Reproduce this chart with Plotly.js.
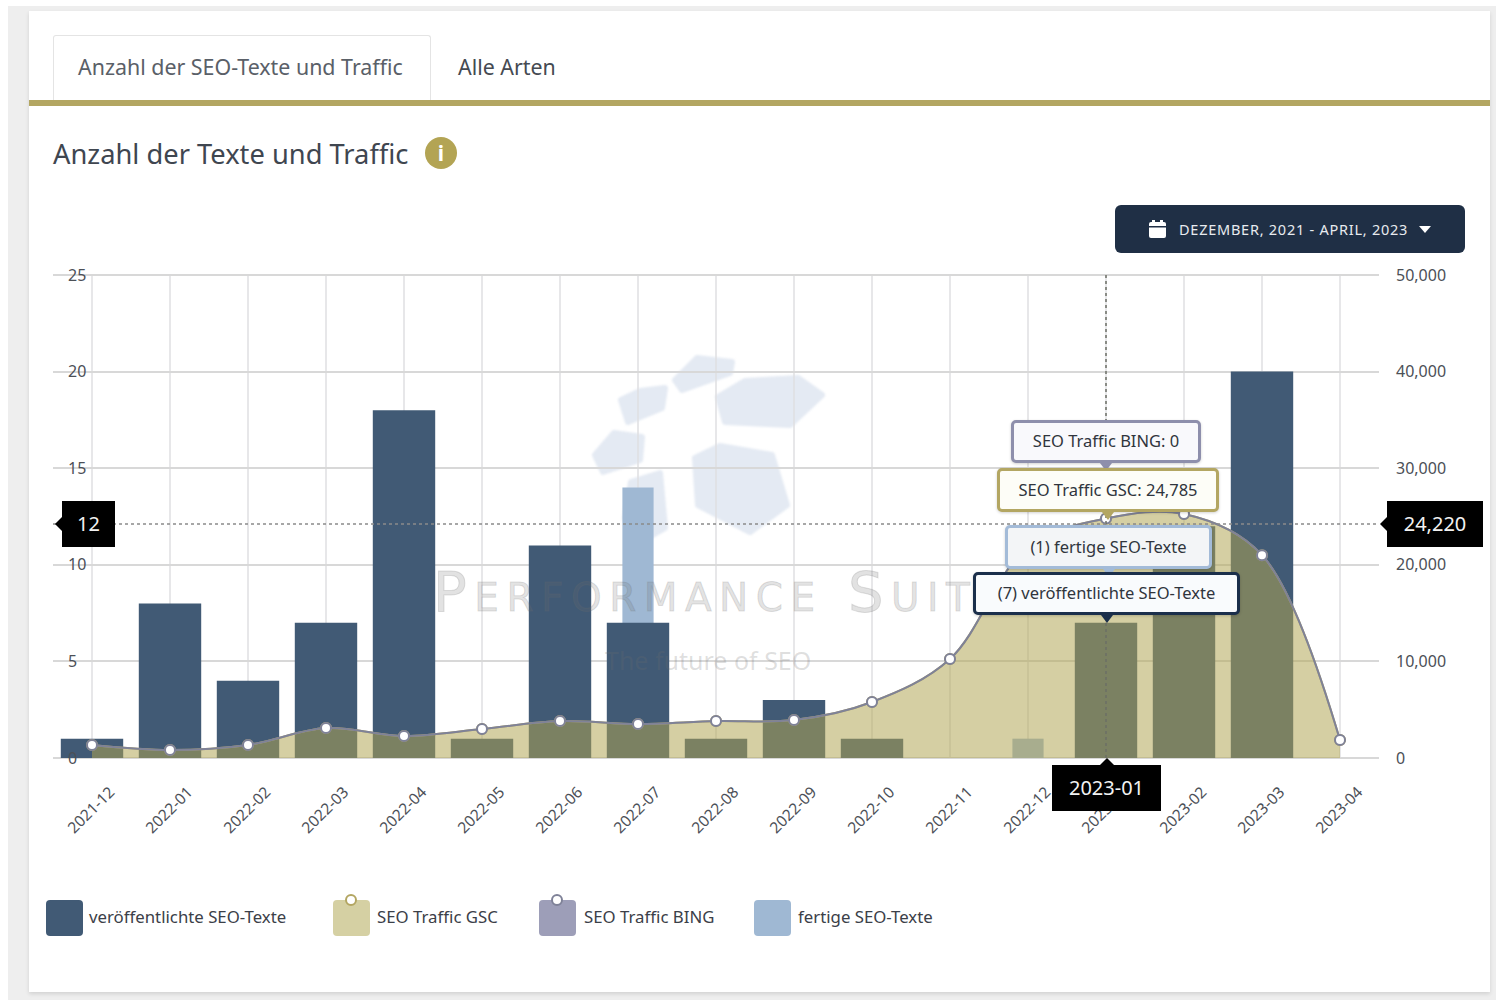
<!DOCTYPE html>
<html lang="de">
<head>
<meta charset="utf-8">
<script src="https://cdn.plot.ly/plotly-3.0.1.min.js"></script>
<style>
html,body{margin:0;padding:0;background:#fff;}
body{width:1496px;height:1000px;position:relative;overflow:hidden;font-family:"Noto Sans",sans-serif;color:#3a3f47;}
.abs{position:absolute;}
#bg{left:8px;top:6px;width:1488px;height:994px;background:#eeeeee;}
#card{left:29px;top:11px;width:1461px;height:981px;background:#fff;box-shadow:0 2px 4px rgba(0,0,0,.12);}
#tab{left:53px;top:35px;width:378px;height:65px;border:1px solid #e4e4e4;border-bottom:none;border-radius:3px 3px 0 0;box-sizing:border-box;}
.tabt{top:52px;font-size:21.4px;line-height:30px;white-space:nowrap;color:#5a6068;}
#rule{left:29px;top:100px;width:1461px;height:6px;background:#b3a662;}
#title{left:53px;top:135px;font-size:27.3px;line-height:38px;white-space:nowrap;color:#3f4650;}
#info{left:425px;top:137px;width:32px;height:32px;border-radius:50%;background:#b3a454;color:#fff;text-align:center;font:bold 21px/32px "Noto Sans",sans-serif;}
#date{left:1115px;top:205px;width:350px;height:48px;background:#1f2f45;border-radius:6px;color:#e8ebef;}
#datet{position:absolute;left:64px;top:14px;font-size:14.5px;line-height:20px;white-space:nowrap;letter-spacing:.75px;}
#wm{left:0;top:0;width:1496px;height:1000px;filter:blur(1.2px);}
#wmt{left:433px;top:562px;font:56px/60px "DejaVu Sans",sans-serif;font-variant:small-caps;letter-spacing:7.5px;color:rgba(110,110,110,.2);-webkit-text-stroke:1px rgba(110,110,110,.2);white-space:nowrap;}
#wms{left:605px;top:645px;font:25px/30px "Noto Sans",sans-serif;color:rgba(110,110,110,.22);white-space:nowrap;}
#plot{left:0;top:0;width:1496px;height:1000px;}
.tip{position:absolute;box-sizing:border-box;border-radius:5px;border-width:3.5px;border-style:solid;text-align:center;font-size:16.5px;color:#30353d;white-space:nowrap;box-shadow:0 1px 3px rgba(0,0,0,.18);}
.tip:after{content:"";position:absolute;left:50%;bottom:-11px;margin-left:-6px;border:6px solid transparent;border-bottom:0;border-top:8px solid var(--c);}
.cur{position:absolute;background:#000;color:#f2f2f2;text-align:center;font-size:20px;line-height:46px;height:46px;}
.cur.l:after{content:"";position:absolute;left:-7px;top:16px;border:7px solid transparent;border-left:0;border-right:7px solid #000;}
.cur.u:after{content:"";position:absolute;left:50%;margin-left:-7px;top:-7px;border:7px solid transparent;border-top:0;border-bottom:7px solid #000;}
.sw{position:absolute;top:900px;width:37px;height:36px;border-radius:4px;}
.sw i{position:absolute;left:12px;top:-6px;width:8px;height:8px;border-radius:50%;background:#fff;border:2px solid var(--c);}
.lt{position:absolute;top:905px;font-size:16.8px;line-height:24px;white-space:nowrap;color:#3b4048;}
</style>
</head>
<body>
<div class="abs" id="bg"></div>
<div class="abs" id="card"></div>
<div class="abs" id="tab"></div>
<div class="abs tabt" style="left:78px">Anzahl der SEO-Texte und Traffic</div>
<div class="abs tabt" style="left:458px;color:#454a52">Alle Arten</div>
<div class="abs" id="rule"></div>
<div class="abs" id="title">Anzahl der Texte und Traffic</div>
<div class="abs" id="info">i</div>
<div class="abs" id="date">
  <svg style="position:absolute;left:34px;top:15px" width="17" height="18" viewBox="0 0 17 18"><rect x="0" y="2" width="17" height="16" rx="2" fill="#fff"/><rect x="3" y="0" width="3" height="4" fill="#fff"/><rect x="11" y="0" width="3" height="4" fill="#fff"/><rect x="0" y="6" width="17" height="1.5" fill="#1f2f45"/></svg>
  <span id="datet">DEZEMBER, 2021 - APRIL, 2023</span>
  <svg style="position:absolute;left:304px;top:21px" width="12" height="7" viewBox="0 0 12 7"><path d="M0 0H12L6 7Z" fill="#fff"/></svg>
</div>
<svg class="abs" id="wm" viewBox="0 0 1496 1000">
  <g fill="#e4eaf3" stroke="#e4eaf3" stroke-width="6" stroke-linejoin="round">
    <polygon points="695,458 720,446 772,455 787,505 750,532 698,505"/>
    <polygon points="718,397 745,381 798,378 822,395 790,425 725,422"/>
    <polygon points="675,380 697,358 732,362 730,373 682,390"/>
    <polygon points="621,400 640,391 665,388 662,408 628,422"/>
    <polygon points="595,455 614,433 642,437 640,460 603,472"/>
    <polygon points="631,482 660,473 665,528 640,542 625,518"/>
  </g>
</svg>
<div class="abs" id="plot"></div>
<div class="abs" id="wmt">Performance Suite</div>
<div class="abs" id="wms">The future of SEO</div>
<div id="overlay"></div>
<script>
const months = ['2021-12','2022-01','2022-02','2022-03','2022-04','2022-05','2022-06','2022-07','2022-08','2022-09','2022-10','2022-11','2022-12','2023-01','2023-02','2023-03','2023-04'];
const publishedTexts = [1,8,4,7,18,1,11,7,1,3,1,0,0,7,12,20,0];
const finishedTexts  = [0,0,0,0,0,0,0,14,0,0,0,0,1,1,0,0,0];
const trafficGSC  = [1350,830,1350,3100,2280,3000,3830,3520,3830,3930,5800,10250,21900,24785,25250,21000,1860];
const trafficBING = [0,0,0,0,0,0,0,0,0,0,0,0,0,0,0,0,0];
const leftTicks  = [0,5,10,15,20,25];
const rightTicks = [0,10000,20000,30000,40000,50000];
const seriesNames = ['veröffentlichte SEO-Texte','SEO Traffic GSC','SEO Traffic BING','fertige SEO-Texte'];
const seriesColors = ['#415a75','#d5d0a3','#9d9eb8','#9fb8d3'];
const cursorMonth = '2023-01';
const cursorLeft = 12;
const cursorRight = 24220;

const tickFont = {family:'"Noto Sans",sans-serif',size:16,color:'#4c5057'};
const lineGrey = '#7f8298';
const traces = [
  {type:'bar',x:months,y:finishedTexts,name:seriesNames[3],width:0.4,marker:{color:seriesColors[3]},yaxis:'y'},
  {type:'bar',x:months,y:publishedTexts,name:seriesNames[0],width:0.8,marker:{color:seriesColors[0]},yaxis:'y'},
  {type:'scatter',x:months,y:trafficGSC,name:seriesNames[1],yaxis:'y2',stackgroup:'traffic',mode:'lines+markers',
   line:{shape:'spline',smoothing:1,color:'#b3a662',width:2},fillcolor:'rgba(175,164,81,0.53)',
   marker:{size:10,color:'#fff',line:{color:'#b3a662',width:2}}},
  {type:'scatter',x:months,y:trafficBING,name:seriesNames[2],yaxis:'y2',stackgroup:'traffic',mode:'lines+markers',
   line:{shape:'spline',smoothing:1,color:lineGrey,width:2},fillcolor:'rgba(157,158,184,0.4)',
   marker:{size:10,color:'#fff',line:{color:lineGrey,width:2}}}
];
// The y ranges reach past 0 and 25 so the inside tick labels at the ends stay drawn.
const pad = 16 / 19.32;
const monthLines = months.map(m => ({type:'line',layer:'below',xref:'x',yref:'y',x0:m,x1:m,y0:0,y1:25,line:{color:'#dfdfe2',width:1.5}}));
const layout = {
  width:1496,height:1000,autosize:false,showlegend:false,hovermode:false,barmode:'overlay',
  paper_bgcolor:'rgba(0,0,0,0)',plot_bgcolor:'rgba(0,0,0,0)',
  margin:{l:53,r:117,t:259,b:226,pad:0},
  font:tickFont,
  xaxis:{type:'category',categoryorder:'array',categoryarray:months,range:[-0.5,16.5],tickangle:-45,ticks:'',
    ticklabelshift:18,ticklabelstandoff:5,tickfont:{family:tickFont.family,size:15.5,color:tickFont.color},showgrid:false,showline:false,zeroline:false,fixedrange:true},
  yaxis:{range:[-pad,25+pad],tickvals:leftTicks,ticktext:leftTicks.map(String),ticklabelposition:'inside',ticklabelstandoff:12,ticks:'',
    tickfont:tickFont,showgrid:true,gridcolor:'#d8d8d8',gridwidth:2,zeroline:false,showline:false,fixedrange:true},
  yaxis2:{overlaying:'y',side:'right',range:[-pad*2000,50000+pad*2000],tickvals:rightTicks,ticktext:rightTicks.map(v=>v.toLocaleString('en-US')),
    ticks:'',ticklabelstandoff:16,tickfont:tickFont,showgrid:false,zeroline:false,showline:false,fixedrange:true},
  shapes:monthLines.concat([
    {type:'line',xref:'x',yref:'y',x0:cursorMonth,x1:cursorMonth,y0:0,y1:25,line:{color:'#6c6f66',width:1.5,dash:'dot'}},
    {type:'line',xref:'paper',yref:'y2',x0:0,x1:1,y0:cursorRight,y1:cursorRight,line:{color:'#8a8a8a',width:1.5,dash:'dot'}}
  ])
};
Plotly.newPlot('plot',traces,layout,{displayModeBar:false,staticPlot:true});

const idx = months.indexOf(cursorMonth);
const tips = [
  {t:`SEO Traffic BING: ${trafficBING[idx].toLocaleString('en-US')}`,x:1011,y:420,w:190,h:43,c:'#8e8fac',b:'#f9f9fc'},
  {t:`SEO Traffic GSC: ${trafficGSC[idx].toLocaleString('en-US')}`,x:997,y:468,w:222,h:44,c:'#b3a662',b:'#fdfdf7'},
  {t:`(${finishedTexts[idx]}) fertige SEO-Texte`,x:1005,y:525,w:207,h:44,c:'#a3bbd8',b:'#f3f5f7'},
  {t:`(${publishedTexts[idx]}) veröffentlichte SEO-Texte`,x:973,y:572,w:267,h:43,c:'#1b2f4b',b:'#f9fbfd'}
];
const ov = document.getElementById('overlay');
tips.forEach(o=>{
  const d=document.createElement('div');d.className='tip';d.textContent=o.t;
  d.style.cssText=`left:${o.x}px;top:${o.y}px;width:${o.w}px;height:${o.h}px;line-height:${o.h-7}px;border-color:${o.c};background:${o.b};--c:${o.c}`;
  ov.appendChild(d);
});
[{t:String(cursorLeft),x:62,y:501,w:53,k:'l'},{t:cursorRight.toLocaleString('en-US'),x:1387,y:501,w:96,k:'l'},{t:cursorMonth,x:1052,y:765,w:109,k:'u'}].forEach(o=>{
  const d=document.createElement('div');d.className='cur '+o.k;d.textContent=o.t;
  d.style.left=o.x+'px';d.style.top=o.y+'px';d.style.width=o.w+'px';ov.appendChild(d);
});
const swX=[46,333,539,754], ltX=[89,377,584,798];
seriesNames.forEach((n,i)=>{
  const s=document.createElement('div');s.className='sw';s.style.left=swX[i]+'px';s.style.background=seriesColors[i];
  if(i===1||i===2){s.style.setProperty('--c',i===1?'#b3a662':'#7f8298');s.appendChild(document.createElement('i'));}
  ov.appendChild(s);
  const l=document.createElement('div');l.className='lt';l.style.left=ltX[i]+'px';l.textContent=n;ov.appendChild(l);
});
</script>
</body>
</html>
